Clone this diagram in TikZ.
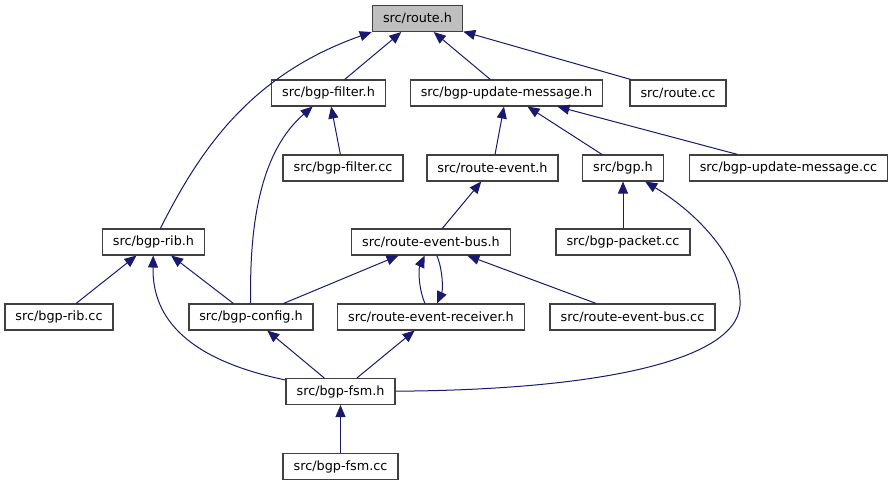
\documentclass[tikz,border=0pt]{standalone}
\usepackage{fontspec}
\setmainfont{DejaVu Sans}
\usepackage{tikz}
\usetikzlibrary{arrows.meta}
\definecolor{edgeblue}{HTML}{191970}
\definecolor{rootgray}{HTML}{BFBFBF}
\tikzset{
  file/.style={draw=black!75,line width=1.1pt,fill=white,text=black,minimum height=19.2pt,
    inner xsep=7.9pt,inner ysep=1pt,font=\fontsize{9.6}{11}\selectfont},
  rootfile/.style={file,fill=rootgray},
  dep/.style={draw=edgeblue,line width=0.75pt,->},
  every edge/.style={dep},
}

\begin{document}
\begin{tikzpicture}[x=0.75pt,y=-0.75pt,>={Triangle[length=9pt,width=7.5pt]}]
\useasboundingbox (0,0) rectangle (895,485);

\node[rootfile] (routeh) at (417.5,18.5) {src/route.h};

\node[file] (bgpfilterh) at (328.5,93) {src/bgp-filter.h};
\node[file] (updmsgh) at (506.5,93) {src/bgp-update-message.h};
\node[file] (routecc) at (678,93) {src/route.cc};

\node[file] (bgpfiltercc) at (343,168) {src/bgp-filter.cc};
\node[file] (routeeventh) at (492.5,168) {src/route-event.h};
\node[file] (bgph) at (623,168) {src/bgp.h};
\node[file] (updmsgcc) at (788.5,168) {src/bgp-update-message.cc};

\node[file] (bgpribh) at (153.5,242) {src/bgp-rib.h};
\node[file] (evbush) at (431,242) {src/route-event-bus.h};
\node[file] (bgppacketcc) at (623,242) {src/bgp-packet.cc};

\node[file] (bgpribcc) at (59,317) {src/bgp-rib.cc};
\node[file] (bgpconfigh) at (251,317) {src/bgp-config.h};
\node[file] (evreceiverh) at (431,317) {src/route-event-receiver.h};
\node[file] (evbuscc) at (632.5,317) {src/route-event-bus.cc};

\node[file] (bgpfsmh) at (340.5,391.5) {src/bgp-fsm.h};
\node[file] (bgpfsmcc) at (340.5,466.5) {src/bgp-fsm.cc};

\path
(bgpfilterh) edge (routeh)
(updmsgh) edge (routeh)
(routecc) edge (routeh)
(bgpfiltercc) edge (bgpfilterh)
(routeeventh) edge (updmsgh)
(bgph) edge (updmsgh)
(updmsgcc) edge (updmsgh)
(evbush) edge (routeeventh)
(bgppacketcc) edge (bgph)
(bgpribcc) edge (bgpribh)
(bgpconfigh) edge (bgpribh)
(bgpconfigh) edge (evbush)
(evbuscc) edge (evbush)
(bgpfsmh) edge (bgpconfigh)
(bgpfsmh) edge (evreceiverh)
(bgpfsmcc) edge (bgpfsmh);

% curved ones
\draw[dep] (bgpribh) .. controls (200,150) and (250,75) .. (routeh.south west);
\draw[dep] (bgpconfigh) .. controls (249,220) and (262,150) .. (bgpfilterh);
\draw[dep] (bgpfsmh) .. controls (190,360) and (152,320) .. (bgpribh);
\draw[dep] (bgpfsmh) .. controls (600,390) and (745,360) .. (740,300)
  .. controls (740,260) and (700,215) .. (bgph);
\draw[dep] (evreceiverh) .. controls (419,290) and (418,270) .. (evbush);
\draw[dep] (evbush) .. controls (443,270) and (443,290) .. (evreceiverh);

\end{tikzpicture}
\end{document}
